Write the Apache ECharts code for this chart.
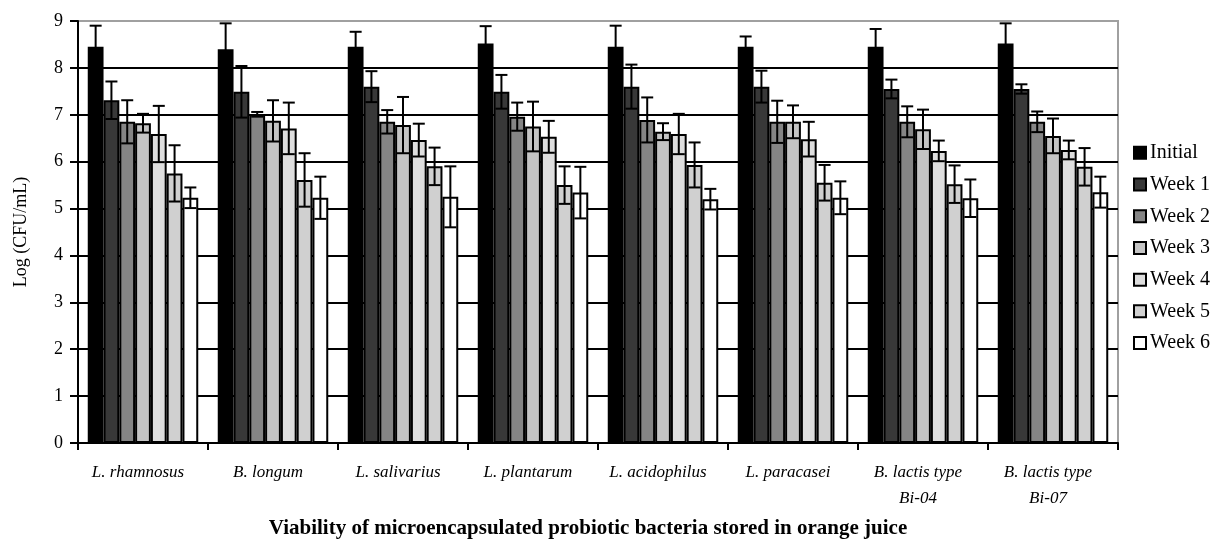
<!DOCTYPE html>
<html>
<head>
<meta charset="utf-8">
<script src="https://cdn.jsdelivr.net/npm/echarts@6/dist/echarts.min.js"></script>
<style>html,body{margin:0;padding:0;background:#fff}#c{width:1211px;height:541px}</style>
</head>
<body>
<div id="c"></div>
<script>
var categories = ['L. rhamnosus', 'B. longum', 'L. salivarius', 'L. plantarum', 'L. acidophilus', 'L. paracasei', 'B. lactis type\nBi-04', 'B. lactis type\nBi-07'];
var seriesNames = ['Initial', 'Week 1', 'Week 2', 'Week 3', 'Week 4', 'Week 5', 'Week 6'];
var initial = [8.45, 8.40, 8.45, 8.52, 8.45, 8.45, 8.45, 8.52];
var week1   = [7.31, 7.49, 7.60, 7.49, 7.60, 7.60, 7.55, 7.55];
var week2   = [6.85, 7.01, 6.85, 6.96, 6.89, 6.85, 6.85, 6.85];
var week3   = [6.82, 6.87, 6.78, 6.75, 6.64, 6.85, 6.69, 6.55];
var week4   = [6.59, 6.71, 6.46, 6.53, 6.59, 6.48, 6.23, 6.25];
var week5   = [5.75, 5.61, 5.90, 5.50, 5.93, 5.55, 5.52, 5.89];
var week6   = [5.23, 5.23, 5.25, 5.34, 5.20, 5.23, 5.22, 5.35];
var errInitial = [0.45, 0.55, 0.32, 0.37, 0.45, 0.22, 0.38, 0.43];
var errWeek1   = [0.40, 0.55, 0.33, 0.36, 0.47, 0.34, 0.20, 0.10];
var errWeek2   = [0.46, 0.05, 0.25, 0.30, 0.48, 0.45, 0.33, 0.22];
var errWeek3   = [0.20, 0.44, 0.60, 0.53, 0.18, 0.35, 0.42, 0.37];
var errWeek4   = [0.60, 0.55, 0.35, 0.34, 0.43, 0.37, 0.22, 0.20];
var errWeek5   = [0.60, 0.57, 0.40, 0.40, 0.48, 0.38, 0.40, 0.40];
var errWeek6   = [0.22, 0.45, 0.65, 0.55, 0.22, 0.35, 0.40, 0.33];
var yTicks = [0, 1, 2, 3, 4, 5, 6, 7, 8, 9];

var values = [initial, week1, week2, week3, week4, week5, week6];
var errors = [errInitial, errWeek1, errWeek2, errWeek3, errWeek4, errWeek5, errWeek6];
var colors = ['#000000', '#383838', '#858585', '#c4c4c4', '#dedede', '#d0d0d0', '#ffffff'];
var catGap = 0.15;
var serif = '"Liberation Serif", "DejaVu Serif", serif';

var series = [];
for (var s = 0; s < seriesNames.length; s++) {
  series.push({
    name: seriesNames[s],
    type: 'bar',
    data: values[s],
    barGap: '0%',
    barCategoryGap: (catGap * 100) + '%',
    itemStyle: { color: colors[s], borderColor: '#000', borderWidth: 2 },
    emphasis: { disabled: true },
    z: 2
  });
}
var errData = [];
for (var s2 = 0; s2 < seriesNames.length; s2++) {
  for (var c = 0; c < categories.length; c++) {
    errData.push([c, s2, values[s2][c], errors[s2][c]]);
  }
}
series.push({
  type: 'custom',
  data: errData,
  encode: { x: 0, y: 2 },
  z: 5,
  silent: true,
  renderItem: function (params, api) {
    var ci = api.value(0), si = api.value(1), v = api.value(2), e = api.value(3);
    var band = api.size([1, 0])[0];
    var groupW = band * (1 - catGap);
    var bw = groupW / seriesNames.length;
    var center = api.coord([ci, v])[0];
    var x = center - groupW / 2 + (si + 0.5) * bw;
    var yTop = api.coord([ci, v + e])[1];
    var yBot = api.coord([ci, v - e])[1];
    var half = bw * 0.38;
    var st = { stroke: '#000', lineWidth: 2 };
    return {
      type: 'group',
      children: [
        { type: 'line', shape: { x1: x, y1: yTop, x2: x, y2: yBot }, style: st },
        { type: 'line', shape: { x1: x - half, y1: yTop, x2: x + half, y2: yTop }, style: st },
        { type: 'line', shape: { x1: x - half, y1: yBot, x2: x + half, y2: yBot }, style: st }
      ]
    };
  }
});

var chart = echarts.init(document.getElementById('c'));
chart.setOption({
  animation: false,
  backgroundColor: '#fff',
  title: {
    text: 'Viability of microencapsulated probiotic bacteria stored in orange juice',
    left: 583, top: 513, textAlign: 'center',
    textStyle: { fontFamily: serif, fontWeight: 'bold', fontSize: 21, color: '#000' }
  },
  legend: {
    orient: 'vertical',
    left: 1128, top: 137,
    itemWidth: 12, itemHeight: 12, itemGap: 10,
    icon: 'rect',
    data: seriesNames,
    textStyle: { fontFamily: serif, fontSize: 20, lineHeight: 21.7, color: '#000', padding: [0, 0, 0, -1] }
  },
  grid: {
    left: 78, right: 93, top: 21, bottom: 98,
    show: true, borderColor: '#a0a0a0', borderWidth: 2
  },
  xAxis: {
    type: 'category',
    data: categories,
    axisLine: { lineStyle: { color: '#000', width: 2 } },
    axisTick: { show: true, length: 7, lineStyle: { color: '#000', width: 2 } },
    axisLabel: { fontFamily: serif, fontStyle: 'italic', fontSize: 17, color: '#000', margin: 17, lineHeight: 26, padding: [0, 10, 0, 0] }
  },
  yAxis: {
    type: 'value',
    min: yTicks[0], max: yTicks[yTicks.length - 1], interval: 1,
    name: 'Log (CFU/mL)',
    nameLocation: 'middle', nameGap: 48,
    nameTextStyle: { fontFamily: serif, fontSize: 18, color: '#000' },
    axisLine: { show: true, lineStyle: { color: '#000', width: 2 } },
    axisTick: { show: true, length: 8, lineStyle: { color: '#000', width: 2 } },
    axisLabel: { fontFamily: serif, fontSize: 18, color: '#000', margin: 15 },
    splitLine: { show: true, lineStyle: { color: ['#000','#000','#000','#000','#000','#000','#000','#000','#000','#a0a0a0'], width: 2 } }
  },
  series: series
});
</script>
</body>
</html>
